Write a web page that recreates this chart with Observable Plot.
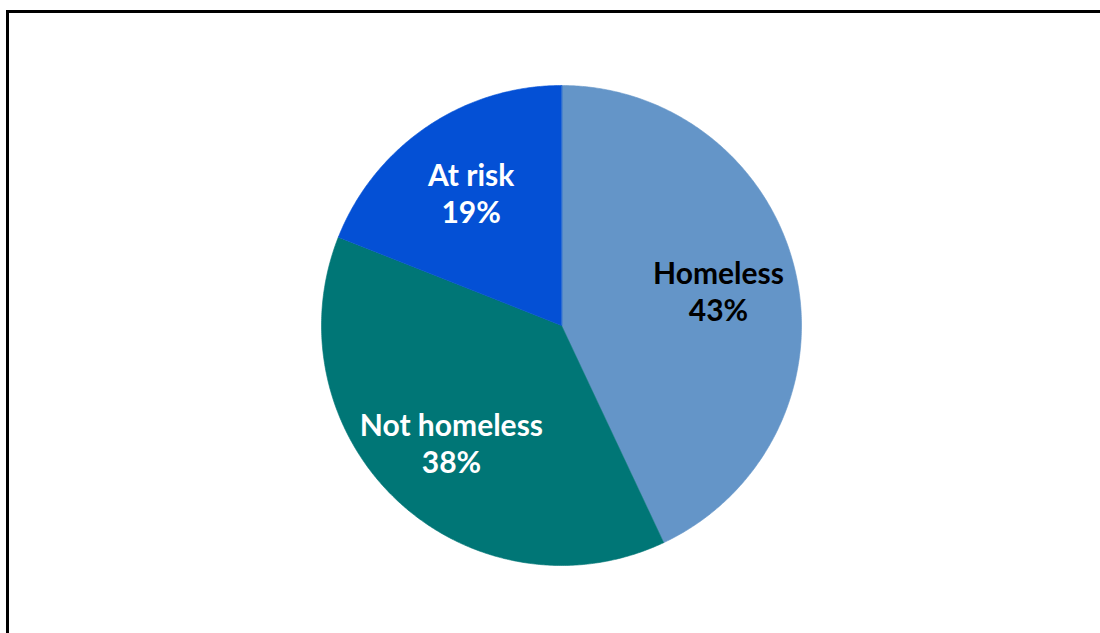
<!DOCTYPE html>
<html>
<head>
<meta charset="utf-8">
<script src="https://cdn.jsdelivr.net/npm/d3@7"></script>
<script src="https://cdn.jsdelivr.net/npm/@observablehq/plot@0.6"></script>
<style>
  html, body { margin: 0; padding: 0; background: #fff; overflow: hidden; }
  #chart svg { display: block; }
</style>
</head>
<body>
<div id="chart"></div>
<script>
// ---- data ----
const categories = ["Homeless", "Not homeless", "At risk"];
const shares = [43, 38, 19];
const sliceColors = ["#6495c8", "#007676", "#0450d5"];
const labelColors = ["#000000", "#ffffff", "#ffffff"];

// ---- layout ----
const W = 1100, H = 633;
const cx = 561, cy = 325, R = 240;

const rows = categories.map((name, i) => ({
  name, share: shares[i], color: sliceColors[i], labelColor: labelColors[i]
}));

const arcs = d3.pie().sort(null).value(d => d.share)(rows);

// polygon vertices for each slice (unit circle coordinates, y up)
const polyPts = [];
for (const a of arcs) {
  polyPts.push({name: a.data.name, color: a.data.color, u: 0, v: 0});
  const n = Math.max(2, Math.ceil((a.endAngle - a.startAngle) / (Math.PI / 360)));
  for (let k = 0; k <= n; k++) {
    const t = a.startAngle + (a.endAngle - a.startAngle) * k / n;
    polyPts.push({name: a.data.name, color: a.data.color, u: Math.sin(t), v: Math.cos(t)});
  }
}

const labelR = 0.67;
const labels = arcs.map(a => {
  const m = (a.startAngle + a.endAngle) / 2;
  return {
    u: labelR * Math.sin(m),
    v: labelR * Math.cos(m),
    text: `${a.data.name}\n${a.data.share}%`,
    labelColor: a.data.labelColor
  };
});

const chart = Plot.plot({
  width: W,
  height: H,
  margin: 0,
  style: {background: "#fff", overflow: "hidden"},
  x: {domain: [-cx / R, (W - cx) / R], axis: null},
  y: {domain: [(cy - H) / R, cy / R], axis: null},
  color: {type: "identity"},
  marks: [
    Plot.line(polyPts, {
      x: "u", y: "v", z: "name",
      fill: "color", stroke: "color", strokeWidth: 0.6,
      curve: "linear-closed"
    }),
    Plot.text(labels, {
      x: "u", y: "v", text: "text",
      fill: "labelColor",
      fontSize: 30, fontWeight: "bold",
      fontFamily: "Lato, 'Open Sans', sans-serif",
      lineHeight: 1.24,
      textAnchor: "middle"
    }),
    Plot.frame({
      stroke: "#000", strokeWidth: 3,
      insetLeft: 7, insetTop: 11, insetRight: -20, insetBottom: -20
    })
  ]
});

document.getElementById("chart").appendChild(chart);
</script>
</body>
</html>
